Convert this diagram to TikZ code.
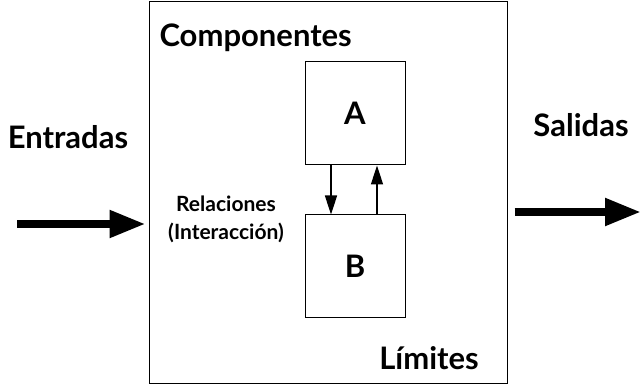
\documentclass[tikz,border=0pt]{standalone}
\usepackage{fontspec}
\setmainfont{Lato}
\usetikzlibrary{arrows.meta}
\tikzset{
  caja/.style={draw, line width=1pt, inner sep=0pt},
  flujo/.style={line width=8pt, -{Triangle[length=36pt,width=26pt]}},
  rel/.style={line width=1.6pt, -{Triangle[length=19pt,width=12pt]}},
  etiq/.style={font=\bfseries\fontsize{31}{36}\selectfont},
}
\begin{document}
\begin{tikzpicture}[x=1pt,y=-1pt]
        \useasboundingbox (0,0) rectangle (641,385);
        % Nodes
        \node[caja, minimum width=358pt, minimum height=382pt] (Sys) at (328,192.5) {};
        \node[caja, minimum width=100pt, minimum height=103pt, etiq] (A) at (355,113.5) {A};
        \node[caja, minimum width=100pt, minimum height=103pt, etiq] (B) at (355,266.5) {B};
        \node[etiq, anchor=west] (Comp) at (156,38) {Componentes};
        \node[etiq] (Ent) at (68,137) {Entradas};
        \node[etiq] (Sal) at (581,125) {Salidas};
        \node[etiq] (Lim) at (429,358) {Límites};
        \node[font=\bfseries\fontsize{21}{28}\selectfont, align=center] (Rel) at (226,219) {Relaciones\\(Interacción)};
        \coordinate (In) at (17,224);
        \coordinate (Out) at (641,212);

        % Arrows
        \draw[flujo] (In) -- ([xshift=-3pt]In -| Sys.west);
        \draw[flujo] ([xshift=7pt]Out -| Sys.east) -- (Out);
        \draw[rel] ([xshift=-24pt]A.south) -- ([xshift=-24pt]B.north);
        \draw[rel] ([xshift=22pt]B.north) -- ([xshift=22pt]A.south);
    \end{tikzpicture}
\end{document}
